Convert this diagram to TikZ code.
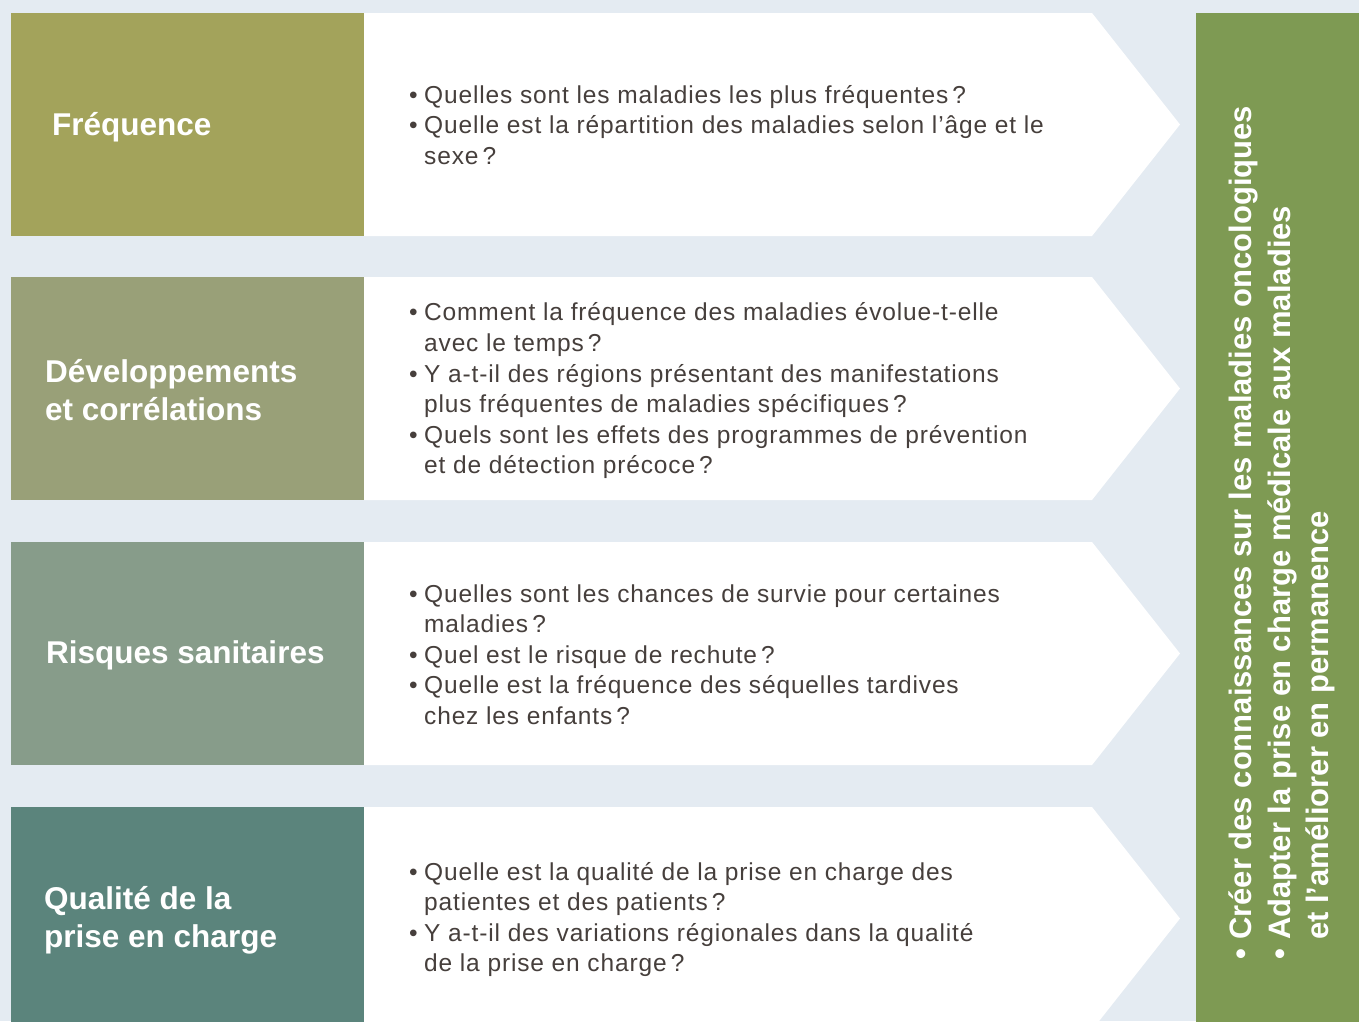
\documentclass[tikz,border=0pt]{standalone}
\usepackage{fontspec}
\setmainfont{Liberation Sans}[LetterSpace=3.5]
\newfontfamily\titlefont{Liberation Sans}
\definecolor{bgc}{HTML}{E4EBF2}
\definecolor{cA}{HTML}{A3A35B}
\definecolor{cB}{HTML}{99A078}
\definecolor{cC}{HTML}{879C8A}
\definecolor{cD}{HTML}{5B847C}
\definecolor{cG}{HTML}{7E9A53}
\definecolor{txt}{HTML}{463F3C}
\newcommand{\bul}{\makebox[15pt][l]{•}}
\newcommand{\cont}{\hspace*{15pt}}
\newcommand{\vbul}{\makebox[20pt][l]{•}}
\newcommand{\vcont}{\hspace*{20pt}}
\begin{document}
\begin{tikzpicture}[x=1pt,y=-1pt,
  titlebox/.style={anchor=west,inner sep=0pt,align=left,text=white,
    font=\titlefont\bfseries\fontsize{31.5}{38}\selectfont},
  bodytext/.style={anchor=west,inner sep=0pt,align=left,text=txt,
    font=\fontsize{24.5}{30.6}\selectfont},
  vtext/.style={anchor=west,inner sep=0pt,align=left,text=white,rotate=90,
    font=\titlefont\bfseries\fontsize{31}{38.5}\selectfont}]
\useasboundingbox (0,0) rectangle (1359,1021);
\clip (0,0) rectangle (1359,1021);
\fill[bgc] (0,0) rectangle (1359,1021);
% rows
\foreach \t/\c in {13/cA,277/cB,542/cC,807/cD}{
  \fill[\c] (11,\t) rectangle (364,\t+223);
  \fill[white] (364,\t) -- (1092,\t) -- (1180,\t+111.5) -- (1092,\t+223) -- (364,\t+223) -- cycle;
}
\fill[cG] (1196,13) rectangle (1370,1030);
% titles
\node[titlebox] (t1) at (52,127) {Fréquence};
\node[titlebox] (t2) at (45,390) {Développements\\et corrélations};
\node[titlebox] (t3) at (46,655) {Risques sanitaires};
\node[titlebox] (t4) at (44,920) {Qualité de la\\prise en charge};
% bodies
\node[bodytext] (b1) at (409,125) {\bul Quelles sont les maladies les plus fréquentes\,?\\
\bul Quelle est la répartition des maladies selon l’âge et le\\
\cont sexe\,?};
\node[bodytext] (b2) at (409,391) {\bul Comment la fréquence des maladies évolue-t-elle\\
\cont avec le temps\,?\\
\bul Y a-t-il des régions présentant des manifestations\\
\cont plus fréquentes de maladies spécifiques\,?\\
\bul Quels sont les effets des programmes de prévention\\
\cont et de détection précoce\,?};
\node[bodytext] (b3) at (409,654.5) {\bul Quelles sont les chances de survie pour certaines\\
\cont maladies\,?\\
\bul Quel est le risque de rechute\,?\\
\bul Quelle est la fréquence des séquelles tardives\\
\cont chez les enfants\,?};
\node[bodytext] (b4) at (409,919.5) {\bul Quelle est la qualité de la prise en charge des\\
\cont patientes et des patients\,?\\
\bul Y a-t-il des variations régionales dans la qualité\\
\cont de la prise en charge\,?};
% vertical text
\node[vtext] (v) at (1282,960) {\vbul Créer des connaissances sur les maladies oncologiques\\
\vbul Adapter la prise en charge médicale aux maladies\\
\vcont et l’améliorer en permanence};
\end{tikzpicture}
\end{document}
